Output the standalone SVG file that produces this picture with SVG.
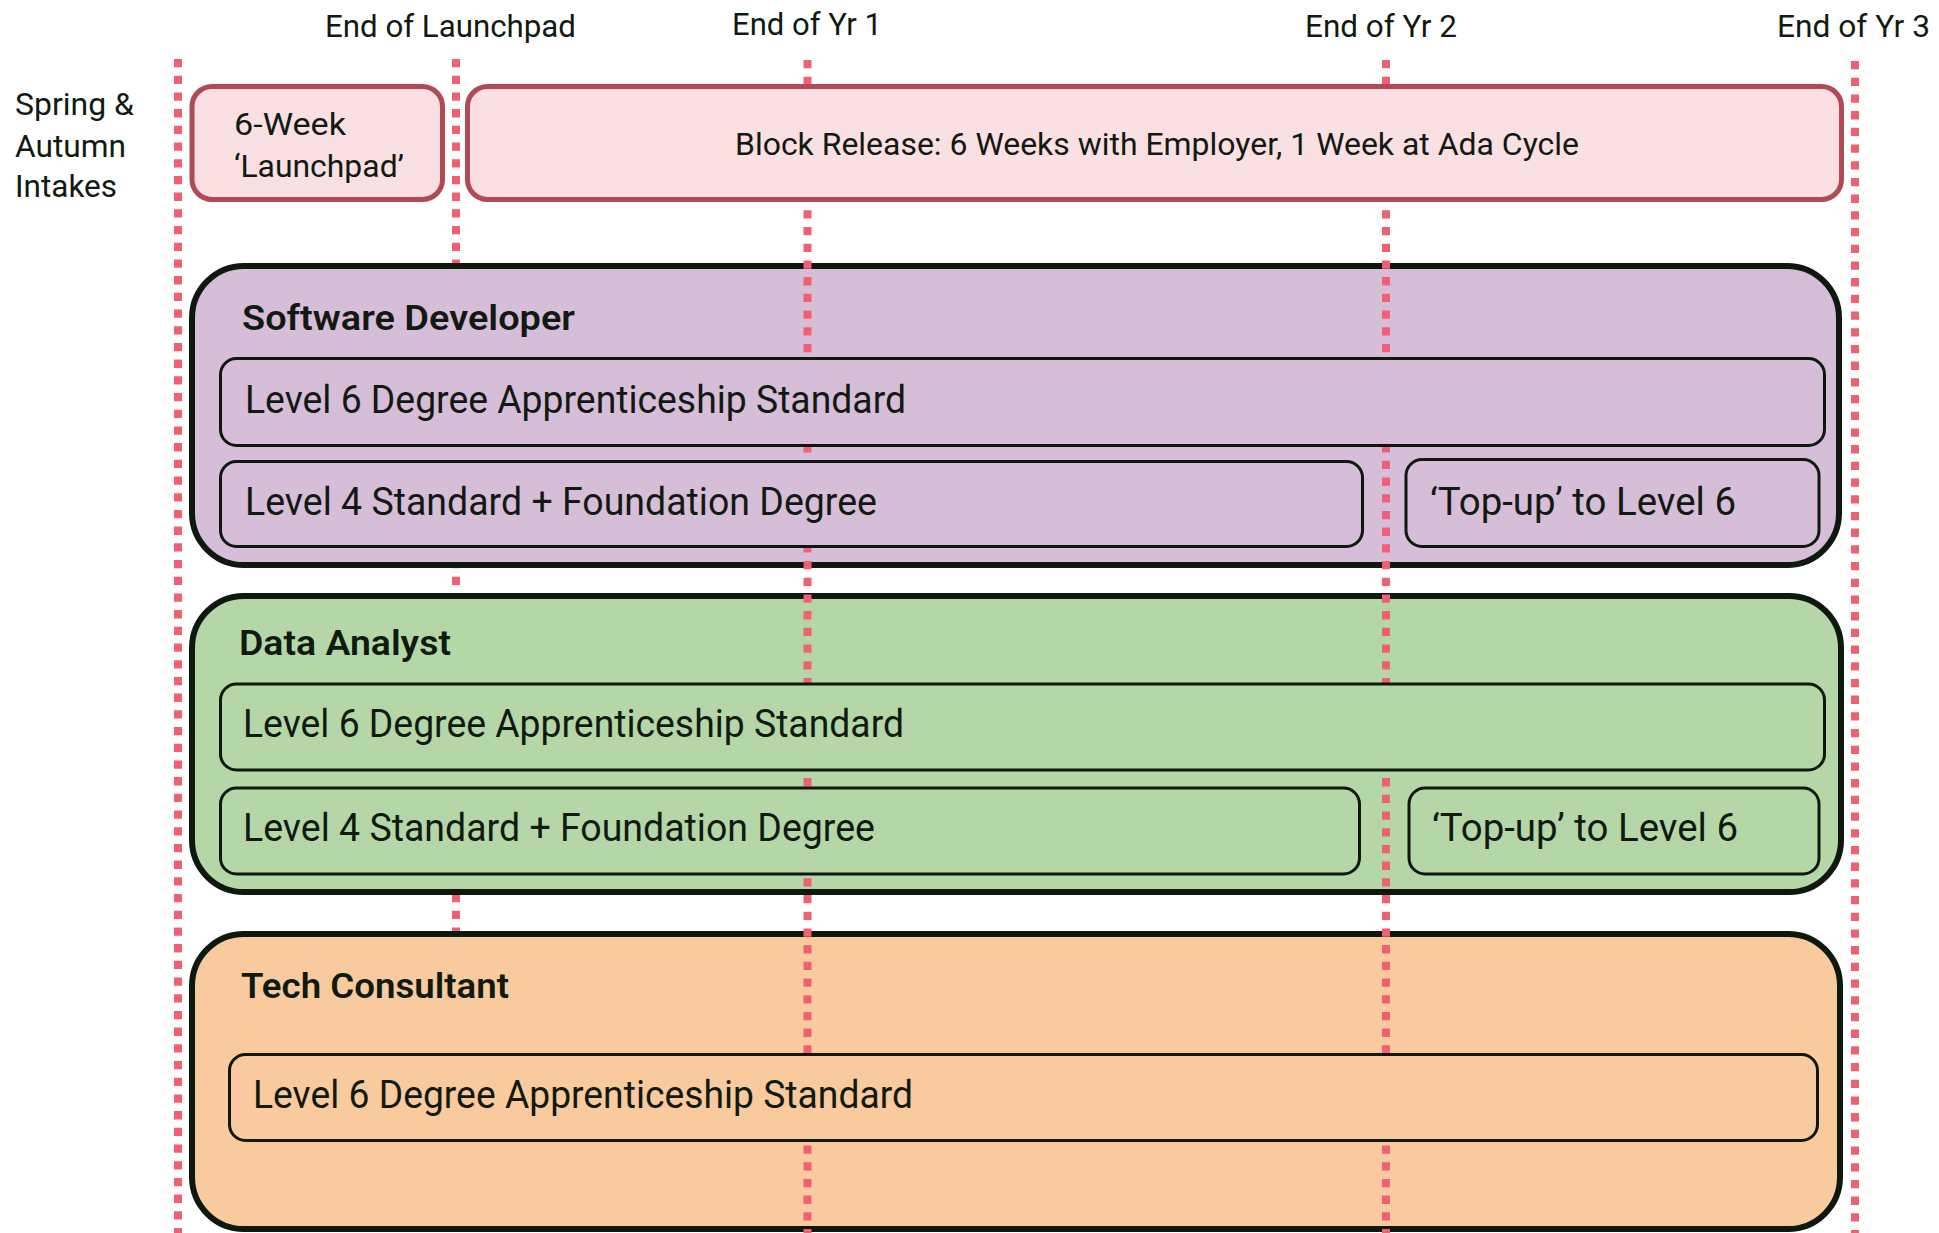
<svg xmlns="http://www.w3.org/2000/svg" width="1939" height="1233" viewBox="0 0 1939 1233">
<style>
text{font-family:Roboto,"Open Sans","Liberation Sans",sans-serif;fill:#111a11;}
.t{font-size:31px;}
.m{font-size:31px;}
.h{font-size:35px;font-weight:600;}
.b{font-size:38px;}
.vl{stroke:#ef6172;stroke-width:8;stroke-dasharray:8.3 8.4;fill:none;}
.pk{fill:#fadfe3;stroke:#b04a55;stroke-width:5;}
.outer{stroke:#0e180e;stroke-width:6;}
.inner{stroke:#0e180e;stroke-width:3;}
.sd{fill:#d6bed8;}
.da{fill:#b5d7a8;}
.tc{fill:#f8ca9d;}
</style>
<rect width="1939" height="1233" fill="#ffffff"/>
<g id="timeline-back">
<line class="vl" x1="456" y1="59" x2="456" y2="1200"/>
</g>
<g id="track-software-developer">
<rect class="outer sd" x="192" y="266" width="1647" height="299" rx="52"/>
<text class="h" x="242" y="330" textLength="333" lengthAdjust="spacingAndGlyphs">Software Developer</text>
</g>
<g id="track-data-analyst">
<rect class="outer da" x="192" y="596" width="1649" height="296" rx="52"/>
<text class="h" x="239" y="655" textLength="212" lengthAdjust="spacingAndGlyphs">Data Analyst</text>
</g>
<g id="track-tech-consultant">
<rect class="outer tc" x="192" y="934" width="1648" height="295" rx="52"/>
<text class="h" x="241" y="998" textLength="268" lengthAdjust="spacingAndGlyphs">Tech Consultant</text>
</g>
<g id="timeline">
<line class="vl" x1="178" y1="59" x2="178" y2="1233"/>
<line class="vl" x1="807.5" y1="60" x2="807.5" y2="1233"/>
<line class="vl" x1="1386" y1="60" x2="1386" y2="1233"/>
<line class="vl" x1="1855" y1="61" x2="1855" y2="1233"/>
<text class="t" x="325" y="37" textLength="251" lengthAdjust="spacingAndGlyphs">End of Launchpad</text>
<text class="t" x="732" y="35" textLength="150" lengthAdjust="spacingAndGlyphs">End of Yr 1</text>
<text class="t" x="1305" y="37" textLength="152" lengthAdjust="spacingAndGlyphs">End of Yr 2</text>
<text class="t" x="1777" y="37" textLength="153" lengthAdjust="spacingAndGlyphs">End of Yr 3</text>
</g>
<g id="intakes">
<text class="m" x="15" y="115" textLength="119" lengthAdjust="spacingAndGlyphs">Spring &amp;</text>
<text class="m" x="15" y="157" textLength="111" lengthAdjust="spacingAndGlyphs">Autumn</text>
<text class="m" x="15" y="197" textLength="102" lengthAdjust="spacingAndGlyphs">Intakes</text>
</g>
<g id="launchpad">
<rect class="pk" x="192" y="86.5" width="250.5" height="113" rx="20"/>
<text class="m" x="234" y="135" textLength="112" lengthAdjust="spacingAndGlyphs">6-Week</text>
<text class="m" x="234" y="177" textLength="170" lengthAdjust="spacingAndGlyphs">‘Launchpad’</text>
</g>
<g id="block-release">
<rect class="pk" x="467.5" y="86.5" width="1374" height="113" rx="20"/>
<text class="m" x="735" y="155" textLength="844" lengthAdjust="spacingAndGlyphs">Block Release: 6 Weeks with Employer, 1 Week at Ada Cycle</text>
</g>
<g id="sd-level6">
<rect class="inner sd" x="220.5" y="358.5" width="1604" height="87" rx="16"/>
<text class="b" x="245" y="413" textLength="661" lengthAdjust="spacingAndGlyphs">Level 6 Degree Apprenticeship Standard</text>
</g>
<g id="sd-level4">
<rect class="inner sd" x="220.5" y="461.5" width="1142" height="85" rx="16"/>
<text class="b" x="245" y="515" textLength="632" lengthAdjust="spacingAndGlyphs">Level 4 Standard + Foundation Degree</text>
</g>
<g id="sd-topup">
<rect class="inner sd" x="1406" y="459.5" width="413" height="87" rx="16"/>
<text class="b" x="1430" y="515" textLength="306" lengthAdjust="spacingAndGlyphs">‘Top-up’ to Level 6</text>
</g>
<g id="da-level6">
<rect class="inner da" x="220.5" y="684" width="1604" height="86" rx="16"/>
<text class="b" x="243" y="737" textLength="661" lengthAdjust="spacingAndGlyphs">Level 6 Degree Apprenticeship Standard</text>
</g>
<g id="da-level4">
<rect class="inner da" x="220.5" y="788" width="1139" height="86" rx="16"/>
<text class="b" x="243" y="841" textLength="632" lengthAdjust="spacingAndGlyphs">Level 4 Standard + Foundation Degree</text>
</g>
<g id="da-topup">
<rect class="inner da" x="1409" y="788" width="410" height="86" rx="16"/>
<text class="b" x="1432" y="841" textLength="306" lengthAdjust="spacingAndGlyphs">‘Top-up’ to Level 6</text>
</g>
<g id="tc-level6">
<rect class="inner tc" x="229.5" y="1054.5" width="1588" height="86" rx="16"/>
<text class="b" x="253" y="1108" textLength="660" lengthAdjust="spacingAndGlyphs">Level 6 Degree Apprenticeship Standard</text>
</g>
</svg>
